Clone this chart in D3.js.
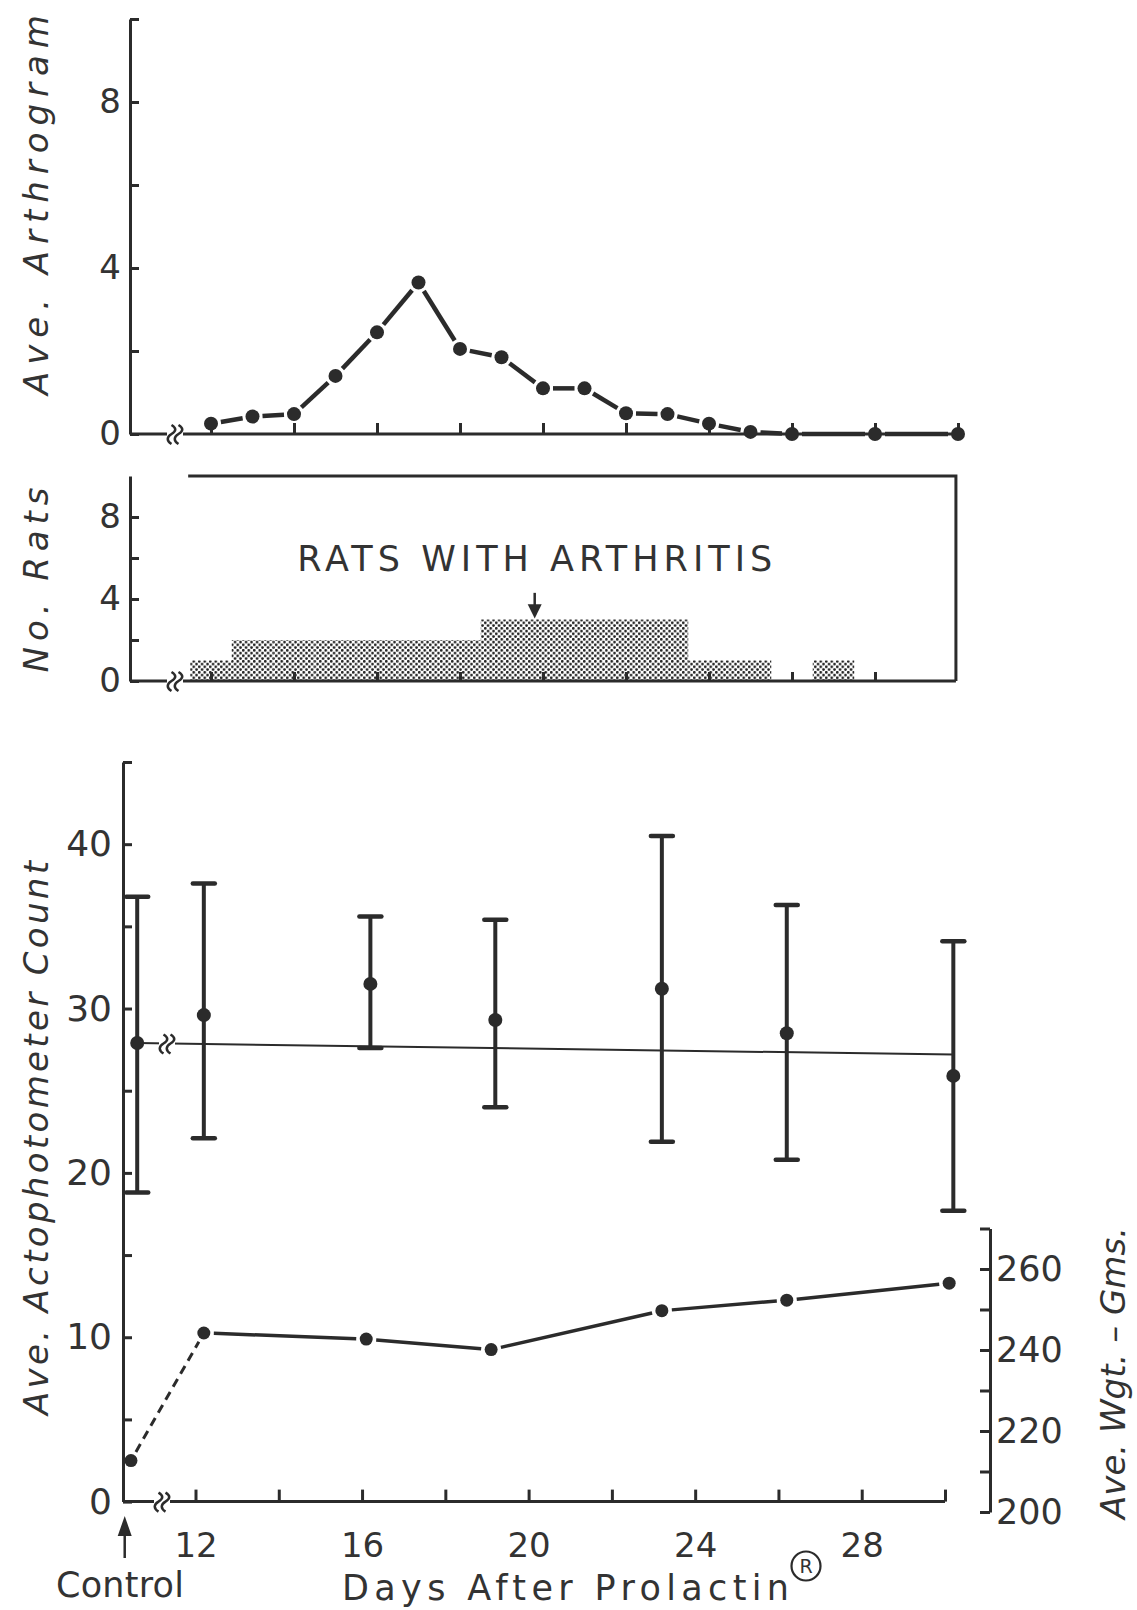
<!DOCTYPE html>
<html>
<head>
<meta charset="utf-8">
<script src="https://cdn.jsdelivr.net/npm/d3@7"></script>
<style>
  body { margin: 0; background: #fff; }
  text { font-family: "DejaVu Sans", sans-serif; fill: #333; }
</style>
</head>
<body>
<svg id="chart" width="1137" height="1610"></svg>
<script>
// ---- data ----
// top panel: average arthrogram score per day
const arthroDays = [12, 13, 14, 15, 16, 17, 18, 19, 20, 21, 22, 23, 24, 25, 26, 28, 30];
const arthroValues = [0.25, 0.42, 0.48, 1.4, 2.45, 3.65, 2.05, 1.85, 1.1, 1.1, 0.5, 0.48, 0.25, 0.05, 0, 0, 0];
// middle panel: number of rats with arthritis per day
const ratDays = [12, 13, 14, 15, 16, 17, 18, 19, 20, 21, 22, 23, 24, 25, 26, 27];
const ratCounts = [1, 2, 2, 2, 2, 2, 2, 3, 3, 3, 3, 3, 1, 1, 0, 1];
// bottom panel: actophotometer count (mean with range)
const actDays = [12.2, 16.2, 19.2, 23.2, 26.2, 30.2];
const actMean = [29.6, 31.5, 29.3, 31.2, 28.5, 25.9];
const actHigh = [37.6, 35.6, 35.4, 40.5, 36.3, 34.1];
const actLow = [22.1, 27.6, 24.0, 21.9, 20.8, 17.7];
const controlAct = [18.8, 27.9, 36.8];   // low, mean, high
const controlLine = [27.9, 27.2];        // control level carried across
// bottom panel: average weight (right axis)
const wgtDays = [12.2, 16.1, 19.1, 23.2, 26.2, 30.1];
const wgtValues = [244.2, 242.7, 240.1, 249.7, 252.3, 256.5];
const controlWgt = 212.7;
// tick labels
const arthroLabels = [0, 4, 8];
const ratLabels = [0, 4, 8];
const actLabels = [0, 10, 20, 30, 40];
const wgtLabels = [200, 220, 240, 260];
const dayLabels = [12, 16, 20, 24, 28];

const ink = "#2b2b2b";
const svg = d3.select("#chart");

// stipple used for the rat histogram
const pat = svg.append("defs").append("pattern")
  .attr("id", "stipple").attr("patternUnits", "userSpaceOnUse")
  .attr("width", 5.5).attr("height", 5.5);
pat.append("circle").attr("cx", 1.3).attr("cy", 1.3).attr("r", 1.35).attr("fill", "#1e1e1e");
pat.append("circle").attr("cx", 4.05).attr("cy", 4.05).attr("r", 1.35).attr("fill", "#1e1e1e");

// scales
const xTop = d3.scaleLinear().domain([12, 30]).range([211, 958]);
const yArth = d3.scaleLinear().domain([0, 10]).range([434, 19]);
const yRats = d3.scaleLinear().domain([0, 10]).range([681, 476]);
const xBot = d3.scaleLinear().domain([12, 30]).range([195.5, 945]);
const yAct = d3.scaleLinear().domain([0, 45]).range([1501.6, 762]);
const yWgt = d3.scaleLinear().domain([200, 270]).range([1512, 1228.5]);
const ctrlActDay = 10.6, ctrlWgtDay = 10.45, ctrlArrowDay = 10.3;

function styleAxis(g, fs) {
  g.attr("font-family", "DejaVu Sans").attr("font-size", fs);
  g.selectAll("path").attr("stroke", ink).attr("stroke-width", 3);
  g.selectAll("line").attr("stroke", ink).attr("stroke-width", 3);
  g.selectAll("text").attr("fill", "#333");
}

// "≀≀" break mark drawn over an axis line
function drawBreak(x, y) {
  const g = svg.append("g");
  g.append("rect").attr("x", x - 8).attr("y", y - 4).attr("width", 16).attr("height", 8).attr("fill", "#fff");
  [-3.5, 3.5].forEach(dx => {
    g.append("path")
      .attr("d", `M${x + dx},${y - 9} c 5,3 5,6 0,9 s -5,7 0,10`)
      .attr("fill", "none").attr("stroke", ink).attr("stroke-width", 2.5);
  });
}

// line pieces that stop short of each dot, like the hand-inked original
function gapped(pts, gap) {
  return d3.pairs(pts).map(([a, b]) => {
    const dx = b[0] - a[0], dy = b[1] - a[1], L = Math.hypot(dx, dy);
    const ux = dx / L, uy = dy / L;
    return [a[0] + ux * gap, a[1] + uy * gap, b[0] - ux * gap, b[1] - uy * gap];
  });
}

function baseline(x0, xBreak, x1, y) {
  svg.append("line").attr("x1", x0).attr("x2", x1).attr("y1", y).attr("y2", y)
    .attr("stroke", ink).attr("stroke-width", 3);
  drawBreak(xBreak, y);
}

function leftTitle(label, cy, len, x) {
  svg.append("text")
    .attr("transform", `translate(${x},${cy}) rotate(-90)`)
    .attr("text-anchor", "middle").attr("font-size", 34).attr("font-style", "italic")
    .attr("textLength", len).attr("lengthAdjust", "spacing")
    .text(label);
}

// ================= top panel: arthrogram =================
const yAxisX = 130;
svg.append("g").attr("transform", `translate(${yAxisX},0)`)
  .call(d3.axisLeft(yArth).tickValues(d3.range(0, 11, 2)).tickSizeInner(-9).tickSizeOuter(0)
    .tickPadding(9).tickFormat(d => arthroLabels.includes(d) ? d : ""))
  .call(g => styleAxis(g, 34));

baseline(yAxisX, 175, xTop(30), yArth(0));
svg.append("g").attr("transform", `translate(0,${yArth(0)})`)
  .call(d3.axisBottom(xTop).tickValues(d3.range(12, 31, 2)).tickSizeInner(-11).tickSizeOuter(0).tickFormat(""))
  .call(g => { styleAxis(g, 10); g.select(".domain").remove(); });

const arthPts = arthroDays.map((d, i) => [xTop(d), yArth(arthroValues[i])]);
svg.append("g").selectAll("line").data(gapped(arthPts, 10)).join("line")
  .attr("x1", d => d[0]).attr("y1", d => d[1]).attr("x2", d => d[2]).attr("y2", d => d[3])
  .attr("stroke", ink).attr("stroke-width", 4.5);
svg.append("g").selectAll("circle").data(arthPts).join("circle")
  .attr("cx", d => d[0]).attr("cy", d => d[1]).attr("r", 7).attr("fill", ink);

leftTitle("Ave.  Arthrogram", 205, 380, 48);

// ================= middle panel: rats with arthritis =================
svg.append("g").selectAll("rect").data(ratDays).join("rect")
  .attr("x", d => xTop(d - 0.5)).attr("width", d => xTop(d + 0.5) - xTop(d - 0.5))
  .attr("y", (d, i) => yRats(ratCounts[i]))
  .attr("height", (d, i) => yRats(0) - yRats(ratCounts[i]))
  .attr("fill", "url(#stipple)");

svg.append("g").attr("transform", `translate(${yAxisX},0)`)
  .call(d3.axisLeft(yRats).tickValues(d3.range(0, 9, 2)).tickSizeInner(-9).tickSizeOuter(0)
    .tickPadding(9).tickFormat(d => ratLabels.includes(d) ? d : ""))
  .call(g => styleAxis(g, 34));

baseline(yAxisX, 175, xTop(29.95), yRats(0));
svg.append("g").attr("transform", `translate(0,${yRats(0)})`)
  .call(d3.axisBottom(xTop).tickValues(d3.range(12, 29, 2)).tickSizeInner(-9).tickSizeOuter(0).tickFormat(""))
  .call(g => { styleAxis(g, 10); g.select(".domain").remove(); });

// frame: top and right edges
svg.append("path")
  .attr("d", `M${xTop(11.45)},${yRats(10)} H${xTop(29.95)} V${yRats(0)}`)
  .attr("fill", "none").attr("stroke", ink).attr("stroke-width", 3);

svg.append("text").attr("x", xTop(19.8)).attr("y", yRats(5.35))
  .attr("text-anchor", "middle").attr("font-size", 35)
  .attr("textLength", 475).attr("lengthAdjust", "spacing")
  .text("RATS  WITH  ARTHRITIS");
// arrow down to the histogram
const arX = xTop(19.8);
svg.append("line").attr("x1", arX).attr("x2", arX)
  .attr("y1", yRats(4.3)).attr("y2", yRats(3.6))
  .attr("stroke", ink).attr("stroke-width", 2.5);
svg.append("path")
  .attr("d", `M${arX - 7},${yRats(3.75)} L${arX + 7},${yRats(3.75)} L${arX},${yRats(3.05)} Z`)
  .attr("fill", ink);

leftTitle("No.  Rats", 580, 185, 48);

// ================= bottom panel: actophotometer + weight =================
const botAxisX = 123;
svg.append("g").attr("transform", `translate(${botAxisX},0)`)
  .call(d3.axisLeft(yAct).tickValues(d3.range(0, 46, 5)).tickSizeInner(-9).tickSizeOuter(0)
    .tickPadding(11).tickFormat(d => actLabels.includes(d) ? d : ""))
  .call(g => styleAxis(g, 36));

baseline(botAxisX, 162, xBot(30), yAct(0));
svg.append("g").attr("transform", `translate(0,${yAct(0)})`)
  .call(d3.axisBottom(xBot).tickValues(d3.range(12, 31, 2)).tickSizeInner(-12).tickSizeOuter(0)
    .tickPadding(31).tickFormat(d => dayLabels.includes(d) ? d : ""))
  .call(g => { styleAxis(g, 34); g.select(".domain").remove(); });

// right axis: weight
const wgtAxisX = 990;
svg.append("g").attr("transform", `translate(${wgtAxisX},0)`)
  .call(d3.axisRight(yWgt).tickValues(d3.range(200, 271, 10)).tickSizeInner(-10).tickSizeOuter(0)
    .tickPadding(6).tickFormat(d => wgtLabels.includes(d) ? d : ""))
  .call(g => styleAxis(g, 35));

// control level line, carried across the days
svg.append("line")
  .attr("x1", xBot(ctrlActDay)).attr("y1", yAct(controlLine[0]))
  .attr("x2", xBot(actDays[actDays.length - 1])).attr("y2", yAct(controlLine[1]))
  .attr("stroke", ink).attr("stroke-width", 2);
drawBreak(167, yAct(controlLine[0]) + 0.5);

// error bars
const bars = [{ day: ctrlActDay, lo: controlAct[0], m: controlAct[1], hi: controlAct[2] }]
  .concat(actDays.map((d, i) => ({ day: d, lo: actLow[i], m: actMean[i], hi: actHigh[i] })));
const gb = svg.append("g");
gb.selectAll(".stem").data(bars).join("line")
  .attr("x1", d => xBot(d.day)).attr("x2", d => xBot(d.day))
  .attr("y1", d => yAct(d.lo)).attr("y2", d => yAct(d.hi))
  .attr("stroke", ink).attr("stroke-width", 4);
gb.selectAll(".capHi").data(bars).join("line")
  .attr("x1", d => xBot(d.day) - 11).attr("x2", d => xBot(d.day) + 11)
  .attr("y1", d => yAct(d.hi)).attr("y2", d => yAct(d.hi))
  .attr("stroke", ink).attr("stroke-width", 4.5).attr("stroke-linecap", "round");
gb.selectAll(".capLo").data(bars).join("line")
  .attr("x1", d => xBot(d.day) - 11).attr("x2", d => xBot(d.day) + 11)
  .attr("y1", d => yAct(d.lo)).attr("y2", d => yAct(d.lo))
  .attr("stroke", ink).attr("stroke-width", 4.5).attr("stroke-linecap", "round");
gb.selectAll("circle").data(bars).join("circle")
  .attr("cx", d => xBot(d.day)).attr("cy", d => yAct(d.m)).attr("r", 7).attr("fill", ink);

// weight line: dashed from control, solid afterwards
const wPts = [[xBot(ctrlWgtDay), yWgt(controlWgt)]]
  .concat(wgtDays.map((d, i) => [xBot(d), yWgt(wgtValues[i])]));
const wSegs = gapped(wPts, 10);
svg.append("g").selectAll("line").data(wSegs).join("line")
  .attr("x1", d => d[0]).attr("y1", d => d[1]).attr("x2", d => d[2]).attr("y2", d => d[3])
  .attr("stroke", ink).attr("stroke-width", (d, i) => i === 0 ? 3 : 3.5)
  .attr("stroke-dasharray", (d, i) => i === 0 ? "9,6" : null);
svg.append("g").selectAll("circle").data(wPts).join("circle")
  .attr("cx", d => d[0]).attr("cy", d => d[1]).attr("r", 6.5).attr("fill", ink);

leftTitle("Ave.  Actophotometer  Count", 1138, 554, 48);
svg.append("text")
  .attr("transform", `translate(1125,1373) rotate(-90)`)
  .attr("text-anchor", "middle").attr("font-size", 34).attr("font-style", "italic")
  .attr("textLength", 292).attr("lengthAdjust", "spacing")
  .text("Ave.  Wgt. – Gms.");

// control marker and x title
const ax = xBot(ctrlArrowDay);
svg.append("line").attr("x1", ax).attr("x2", ax).attr("y1", 1558).attr("y2", 1532)
  .attr("stroke", ink).attr("stroke-width", 2.5);
svg.append("path").attr("d", `M${ax - 7},${1536} L${ax + 7},${1536} L${ax},${1516} Z`).attr("fill", ink);
svg.append("text").attr("x", 120).attr("y", 1597).attr("text-anchor", "middle")
  .attr("font-size", 35).attr("textLength", 128).attr("lengthAdjust", "spacing").text("Control");
svg.append("text").attr("x", 342).attr("y", 1600).attr("font-size", 35)
  .attr("textLength", 447).attr("lengthAdjust", "spacing").text("Days After Prolactin");
// registered mark: circled R raised after the title
svg.append("circle").attr("cx", 806).attr("cy", 1566).attr("r", 14.5)
  .attr("fill", "none").attr("stroke", ink).attr("stroke-width", 2.2);
svg.append("text").attr("x", 806).attr("y", 1573).attr("text-anchor", "middle")
  .attr("font-size", 19).text("R");
</script>
</body>
</html>
